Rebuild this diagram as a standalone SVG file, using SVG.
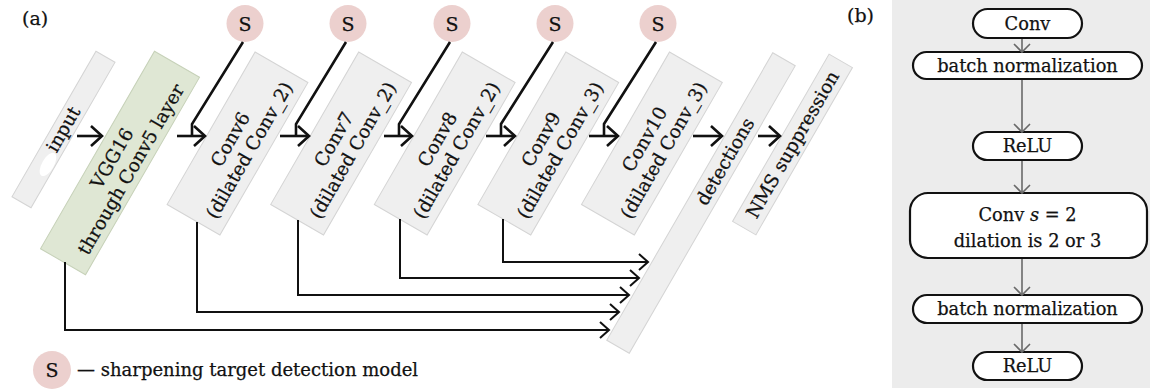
<svg xmlns="http://www.w3.org/2000/svg" width="1150" height="390" viewBox="0 0 1150 390">
<defs>
<style>
text { font-family: "DejaVu Serif", "Liberation Serif", serif; fill: #111; stroke: #111; stroke-width: 0.25; }
.lbl { font-size: 18.5px; text-anchor: middle; }
.blbl { font-size: 17.8px; text-anchor: middle; }
.box { fill: #efefef; stroke: #d4d4d4; stroke-width: 1; }
.green { fill: #dfe7d4; stroke: #c6d1b8; stroke-width: 1; }
.sc { fill: #ecd0ce; }
.main { stroke: #111; stroke-width: 2.6; fill: none; }
.thin { stroke: #111; stroke-width: 2; fill: none; }
.grey { stroke: #6a6a6a; stroke-width: 1.6; fill: none; }
.pill { fill: #fff; stroke: #111; stroke-width: 2.2; }
</style>
<marker id="ah" markerUnits="userSpaceOnUse" viewBox="-14 -12 16 24" refX="0" refY="0" markerWidth="16" markerHeight="24" orient="auto" overflow="visible">
<path d="M-11,-10 L0,0 L-11,10" fill="none" stroke="#111" stroke-width="2.6"/>
</marker>
<marker id="ahs" markerUnits="userSpaceOnUse" viewBox="-12 -10 14 20" refX="0" refY="0" markerWidth="14" markerHeight="20" orient="auto" overflow="visible">
<path d="M-9,-8 L0,0 L-9,8" fill="none" stroke="#111" stroke-width="2"/>
</marker>
<marker id="ahg" markerUnits="userSpaceOnUse" viewBox="-11 -10 13 20" refX="0" refY="0" markerWidth="13" markerHeight="20" orient="auto" overflow="visible">
<path d="M-8,-8 L0,0 L-8,8" fill="none" stroke="#6a6a6a" stroke-width="1.6"/>
</marker>
</defs>
<rect width="1150" height="390" fill="#fff"/>
<rect x="892" y="0" width="258" height="388" fill="#ececec"/>

<!-- panel labels -->
<text x="22" y="25" style="font-size:19px">(a)</text>
<text x="847" y="22" style="font-size:19px">(b)</text>

<!-- panel (a) nodes -->
<g id="input" transform="translate(63.5,129.5) rotate(-60)">
<rect class="box" x="-84" y="-11" width="168" height="22"/>
<ellipse cx="-38" cy="4" rx="13" ry="6" fill="#fff"/>
<text class="lbl" x="0" y="6">input</text>
</g>
<g id="vgg16" transform="translate(120,163) rotate(-60)">
<rect class="green" x="-114" y="-26" width="228" height="52"/>
<text class="lbl" x="0" y="-3">VGG16</text>
<text class="lbl" x="0" y="19">through Conv5 layer</text>
</g>
<g id="conv6" transform="translate(237.5,143.5) rotate(-60)">
<rect class="box" x="-88" y="-30.5" width="176" height="61"/>
<text class="lbl" x="0" y="-2">Conv6</text>
<text class="lbl" x="0" y="20">(dilated Conv_2)</text>
</g>
<g id="conv7" transform="translate(341.1,143.5) rotate(-60)">
<rect class="box" x="-88" y="-30.5" width="176" height="61"/>
<text class="lbl" x="0" y="-2">Conv7</text>
<text class="lbl" x="0" y="20">(dilated Conv_2)</text>
</g>
<g id="conv8" transform="translate(444.7,143.5) rotate(-60)">
<rect class="box" x="-88" y="-30.5" width="176" height="61"/>
<text class="lbl" x="0" y="-2">Conv8</text>
<text class="lbl" x="0" y="20">(dilated Conv_2)</text>
</g>
<g id="conv9" transform="translate(548.3,143.5) rotate(-60)">
<rect class="box" x="-88" y="-30.5" width="176" height="61"/>
<text class="lbl" x="0" y="-2">Conv9</text>
<text class="lbl" x="0" y="20">(dilated Conv_3)</text>
</g>
<g id="conv10" transform="translate(651.9,143.5) rotate(-60)">
<rect class="box" x="-88" y="-30.5" width="176" height="61"/>
<text class="lbl" x="0" y="-2">Conv10</text>
<text class="lbl" x="0" y="20">(dilated Conv_3)</text>
</g>
<g id="detections" transform="translate(701,203) rotate(-60)">
<rect class="box" x="-166" y="-13" width="332" height="26"/>
<text class="lbl" x="48" y="6.5">detections</text>
</g>
<g id="nms" transform="translate(792.5,144.5) rotate(-60)">
<rect class="box" x="-96.5" y="-13.5" width="193" height="27"/>
<text class="lbl" x="0" y="6.5">NMS suppression</text>
</g>

<g id="s1"><circle class="sc" cx="245" cy="23.5" r="18.5"/><text class="lbl" x="245" y="30.5" style="font-size:19px">S</text></g>
<g id="s2"><circle class="sc" cx="348" cy="23.5" r="18.5"/><text class="lbl" x="348" y="30.5" style="font-size:19px">S</text></g>
<g id="s3"><circle class="sc" cx="452" cy="23.5" r="18.5"/><text class="lbl" x="452" y="30.5" style="font-size:19px">S</text></g>
<g id="s4"><circle class="sc" cx="555" cy="23.5" r="18.5"/><text class="lbl" x="555" y="30.5" style="font-size:19px">S</text></g>
<g id="s5"><circle class="sc" cx="658" cy="23.5" r="18.5"/><text class="lbl" x="658" y="30.5" style="font-size:19px">S</text></g>

<!-- panel (b) nodes -->
<g id="b_conv"><rect class="pill" x="973" y="9" width="109" height="29" rx="14.5"/><text class="blbl" x="1027.5" y="30">Conv</text></g>
<g id="b_bn1"><rect class="pill" x="913" y="52" width="229" height="27" rx="13.5"/><text class="blbl" x="1027.5" y="71.5">batch normalization</text></g>
<g id="b_relu1"><rect class="pill" x="973" y="132" width="109" height="28" rx="14"/><text class="blbl" x="1027.5" y="152">ReLU</text></g>
<g id="b_convs"><rect class="pill" x="910" y="193" width="237" height="65" rx="18"/><text class="blbl" x="1027.5" y="221">Conv <tspan font-style="italic">s</tspan> = 2</text><text class="blbl" x="1027.5" y="247">dilation is 2 or 3</text></g>
<g id="b_bn2"><rect class="pill" x="913" y="295" width="229" height="28" rx="14"/><text class="blbl" x="1027.5" y="315">batch normalization</text></g>
<g id="b_relu2"><rect class="pill" x="973" y="352" width="109" height="28" rx="14"/><text class="blbl" x="1027.5" y="372">ReLU</text></g>

<!-- connectors -->
<g id="connectors">
<path class="main" d="M243,42 L192,124 L192,136"/>
<path class="main" d="M346,42 L296,124 L296,136"/>
<path class="main" d="M450,42 L399,124 L399,136"/>
<path class="main" d="M553,42 L501,124 L501,136"/>
<path class="main" d="M656,42 L604,124 L604,136"/>

<line class="main" x1="77" y1="136" x2="102" y2="136" marker-end="url(#ah)"/>
<line class="main" x1="177" y1="136" x2="205" y2="136" marker-end="url(#ah)"/>
<line class="main" x1="280" y1="136" x2="309" y2="136" marker-end="url(#ah)"/>
<line class="main" x1="384" y1="136" x2="412" y2="136" marker-end="url(#ah)"/>
<line class="main" x1="486" y1="136" x2="515" y2="136" marker-end="url(#ah)"/>
<line class="main" x1="589" y1="136" x2="618" y2="136" marker-end="url(#ah)"/>
<line class="main" x1="693" y1="136" x2="722" y2="136" marker-end="url(#ah)"/>
<line class="main" x1="758" y1="136" x2="780" y2="136" marker-end="url(#ah)"/>

<path class="thin" d="M65,262 V330 H609" marker-end="url(#ahs)"/>
<path class="thin" d="M197,222 V312 H619" marker-end="url(#ahs)"/>
<path class="thin" d="M298,220 V295 H629" marker-end="url(#ahs)"/>
<path class="thin" d="M400,219 V278 H639" marker-end="url(#ahs)"/>
<path class="thin" d="M503,219 V262 H648" marker-end="url(#ahs)"/>

<line class="grey" x1="1022" y1="39" x2="1022" y2="52" marker-end="url(#ahg)"/>
<line class="grey" x1="1022" y1="80" x2="1022" y2="132" marker-end="url(#ahg)"/>
<line class="grey" x1="1022" y1="161" x2="1022" y2="193" marker-end="url(#ahg)"/>
<line class="grey" x1="1022" y1="259" x2="1022" y2="295" marker-end="url(#ahg)"/>
<line class="grey" x1="1022" y1="324" x2="1022" y2="352" marker-end="url(#ahg)"/>
</g>

<!-- legend -->
<g id="legend">
<circle class="sc" cx="52" cy="370" r="19"/>
<text class="lbl" x="52" y="377" style="font-size:19px">S</text>
<text x="77" y="376" style="font-size:18px">— sharpening target detection model</text>
</g>
</svg>
